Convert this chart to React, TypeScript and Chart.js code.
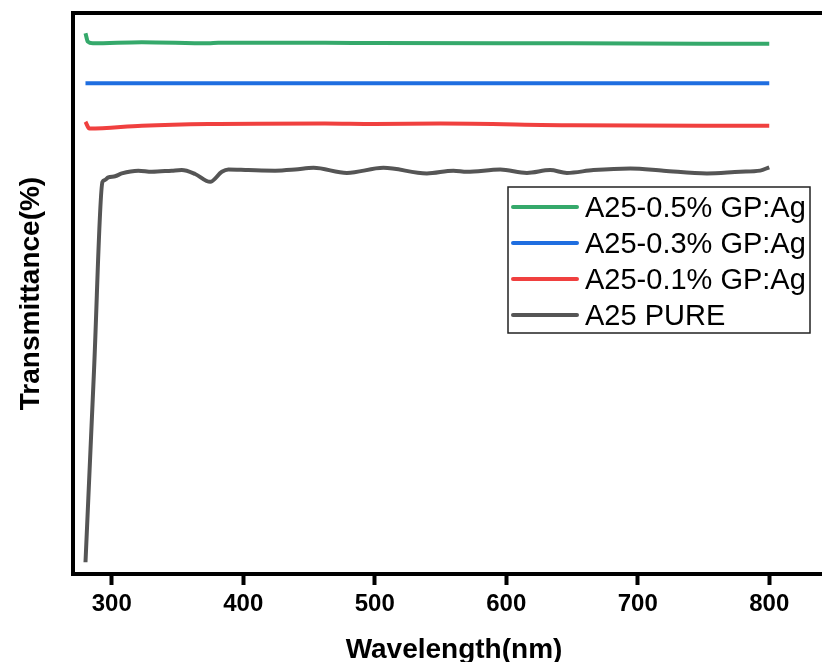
import { useEffect, useRef } from "react";
import { Chart, registerables } from "chart.js";

Chart.register(...registerables);

const FONT = "'Liberation Sans', Arial, sans-serif";

const xTicks = [300, 400, 500, 600, 700, 800];

const pureWavelength = [280, 286.5, 292.9, 294.4, 297.4, 302.5, 307.6, 320.2, 330.4, 345.6, 353.2, 363.4, 374.8, 383.7, 388.7, 403.9, 424.2, 439.4, 453.4, 478.8, 506.6, 539.6, 559.8, 570, 595.4, 615.7, 633.4, 646.1, 666.3, 694.3, 719.6, 752.6, 777.9, 793.1, 800];
const pureValues = [2.1, 36.4, 69.9, 70.2, 70.7, 70.9, 71.4, 71.9, 71.7, 71.9, 72.0, 71.3, 69.9, 71.7, 72.1, 72.0, 71.9, 72.1, 72.4, 71.5, 72.4, 71.4, 71.9, 71.7, 72.1, 71.5, 72.0, 71.5, 72.0, 72.3, 71.9, 71.4, 71.7, 71.9, 72.5];

const ag01Wavelength = [280, 283, 322.8, 373.5, 462, 500, 550, 650, 800];
const ag01Values = [80.6, 79.4, 79.9, 80.2, 80.3, 80.2, 80.3, 80.0, 79.9];

const ag03Wavelength = [280, 400, 500, 600, 700, 800];
const ag03Values = [87.5, 87.5, 87.5, 87.5, 87.5, 87.5];

const ag05Wavelength = [280, 281.8, 285.6, 322.8, 373.5, 381, 462, 500, 650, 800];
const ag05Values = [96.4, 94.9, 94.6, 94.8, 94.6, 94.7, 94.7, 94.65, 94.6, 94.5];

const seriesLabels = ["A25-0.5% GP:Ag", "A25-0.3% GP:Ag", "A25-0.1% GP:Ag", "A25 PURE"];
const seriesColors = ["#35a96b", "#1f6ee0", "#f0403f", "#555555"];

const toPoints = (xs: number[], ys: number[]) => xs.map((x, i) => ({ x, y: ys[i] }));

const framePlugin = {
  id: "frameAndLegend",
  afterDraw(chart: any) {
    const { ctx, chartArea: a } = chart;
    ctx.save();
    ctx.strokeStyle = "#000";
    ctx.lineWidth = 4;
    ctx.strokeRect(a.left, a.top, a.right - a.left, a.bottom - a.top);

    // legend box
    const bx = 508, by = 187, bw = 302, bh = 146;
    ctx.lineWidth = 1.5;
    ctx.strokeStyle = "#222";
    ctx.strokeRect(bx, by, bw, bh);
    seriesLabels.forEach((label, i) => {
      const y = 207 + i * 36;
      ctx.strokeStyle = seriesColors[i];
      ctx.lineWidth = 4;
      ctx.lineCap = "round";
      ctx.beginPath();
      ctx.moveTo(513, y);
      ctx.lineTo(577, y);
      ctx.stroke();
      ctx.fillStyle = "#000";
      ctx.font = `29px ${FONT}`;
      ctx.textBaseline = "middle";
      ctx.textAlign = "left";
      ctx.fillText(label, 585, y + 2);
    });
    ctx.restore();
  },
};

export default function App() {
  const ref = useRef<HTMLCanvasElement | null>(null);

  useEffect(() => {
    if (!ref.current) return;
    const mk = (i: number, xs: number[], ys: number[]) => ({
      label: seriesLabels[i],
      data: toPoints(xs, ys),
      borderColor: seriesColors[i],
      backgroundColor: seriesColors[i],
      borderWidth: 4,
      pointRadius: 0,
      cubicInterpolationMode: "monotone" as const,
      fill: false,
    });
    const chart = new Chart(ref.current, {
      type: "line",
      data: {
        datasets: [
          mk(0, ag05Wavelength, ag05Values),
          mk(1, ag03Wavelength, ag03Values),
          mk(2, ag01Wavelength, ag01Values),
          mk(3, pureWavelength, pureValues),
        ],
      },
      options: {
        responsive: false,
        animation: false,
        layout: { padding: { left: 0, top: 13, right: 5, bottom: 0 } },
        plugins: { legend: { display: false }, tooltip: { enabled: false } },
        scales: {
          x: {
            type: "linear",
            min: 270.5,
            max: 850,
            afterBuildTicks: (scale: any) => {
              scale.ticks = xTicks.map((v) => ({ value: v }));
            },
            afterFit: (scale: any) => {
              scale.height = 93;
            },
            grid: {
              display: true,
              drawOnChartArea: false,
              drawTicks: true,
              tickLength: 11,
              tickWidth: 4,
              tickColor: "#000",
            },
            border: { display: false },
            ticks: {
              color: "#000",
              padding: 5,
              font: { family: FONT, size: 24, weight: "bold" },
              maxRotation: 0,
              autoSkip: false,
            },
            title: {
              display: true,
              text: "Wavelength(nm)",
              color: "#000",
              font: { family: FONT, size: 28, weight: "bold" },
              padding: { top: 0, bottom: 0 },
            },
          },
          y: {
            type: "linear",
            min: 0,
            max: 100,
            afterFit: (scale: any) => {
              scale.width = 73;
            },
            grid: { display: false },
            border: { display: false },
            ticks: { display: false },
            title: {
              display: true,
              text: "Transmittance(%)",
              color: "#000",
              font: { family: FONT, size: 28, weight: "bold" },
              padding: { top: 14, bottom: 0 },
            },
          },
        },
      },
      plugins: [framePlugin],
    });
    return () => chart.destroy();
  }, []);

  return (
    <div style={{ position: "absolute", left: 0, top: 0, width: 822, height: 662, overflow: "hidden", background: "#fff" }}>
      <canvas ref={ref} width={840} height={667} style={{ width: 840, height: 667, display: "block" }} />
    </div>
  );
}
